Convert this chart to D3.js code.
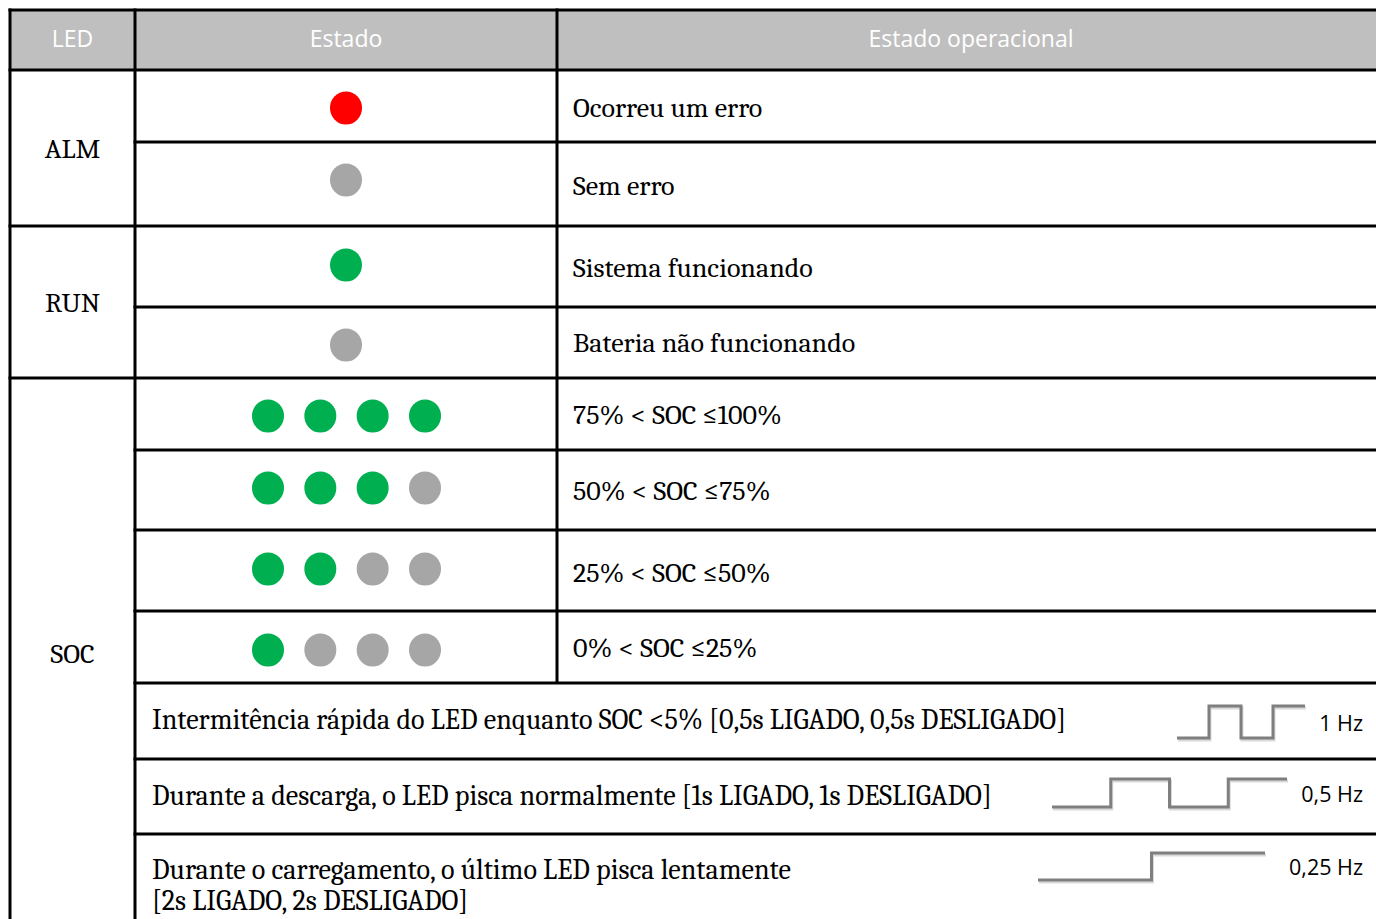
<!DOCTYPE html>
<html><head><meta charset="utf-8">
<script src="https://cdn.jsdelivr.net/npm/d3@7"></script>
<style>
html,body{margin:0;padding:0;background:#fff;overflow:hidden}
svg{display:block}
</style></head>
<body>
<svg id="c" width="1376" height="919"></svg>
<script>
// ---------- data ----------
const headers = ["LED", "Estado", "Estado operacional"];
const ledNames = ["ALM", "RUN", "SOC"];
const ledRowCounts = [2, 2, 7];
const stateDots = [
  ["red"], ["gray"], ["green"], ["gray"],
  ["green","green","green","green"],
  ["green","green","green","gray"],
  ["green","green","gray","gray"],
  ["green","gray","gray","gray"]
];
const descriptions = [
  "Ocorreu um erro", "Sem erro", "Sistema funcionando", "Bateria não funcionando",
  "75% < SOC ≤100%", "50% < SOC ≤75%", "25% < SOC ≤50%", "0% < SOC ≤25%"
];
const blinkTexts = [
  ["Intermitência rápida do LED enquanto SOC <5% [0,5s LIGADO, 0,5s DESLIGADO]"],
  ["Durante a descarga, o LED pisca normalmente [1s LIGADO, 1s DESLIGADO]"],
  ["Durante o carregamento, o último LED pisca lentamente", "[2s LIGADO, 2s DESLIGADO]"]
];
const blinkFreqLabels = ["1 Hz", "0,5 Hz", "0,25 Hz"];
const blinkPeriods = [1, 2, 4];           // seconds per cycle
const blinkLevels = [[0,1,0,1],[0,1,0,1],[0,1]]; // level per half-period segment

// ---------- layout ----------
const colors = {red:"#ff0000", green:"#00b050", gray:"#a6a6a6"};
const svg = d3.select("#c");
const W = 1376;
const colX = [10, 135, 557, 1385];
const rowHeights = [60, 72, 84, 81, 71, 72, 80, 81, 72, 76, 75, 94];
const rowY = [10];
rowHeights.forEach(h => rowY.push(rowY[rowY.length-1] + h));
const serif = "Cambria, Caladea, 'Liberation Serif', serif";
const sans = "'Open Sans', sans-serif";

// header background
svg.append("rect").attr("x", colX[0]).attr("y", rowY[0]).attr("width", colX[3] - colX[0])
  .attr("height", rowHeights[0]).attr("fill", "#bfbfbf");
svg.selectAll("text.hdr").data(headers).join("text").attr("class","hdr")
  .attr("x", (d,i) => (colX[i] + colX[i+1]) / 2)
  .attr("y", rowY[0] + rowHeights[0]/2 - 2.5)
  .attr("text-anchor","middle").attr("dominant-baseline","central")
  .attr("fill","#fff").attr("font-family", sans).attr("font-size", 23)
  .text(d => d);

// LED names (merged cells)
let r = 1;
const ledSpans = ledRowCounts.map(n => { const s = {start:r, end:r+n}; r += n; return s; });
svg.selectAll("text.led").data(ledNames).join("text").attr("class","led")
  .attr("x", (colX[0]+colX[1])/2)
  .attr("y", (d,i) => (rowY[ledSpans[i].start] + rowY[ledSpans[i].end]) / 2 + 1)
  .attr("text-anchor","middle").attr("dominant-baseline","central")
  .attr("font-family", serif).attr("font-size", 28).attr("fill","#000")
  .text(d => d);

// LED dots
const dotOffsets = [2, -4, -1.5, 2.5, 2, -2, -1.5, 3];
const dotX = d3.scalePoint().domain(d3.range(4)).range([268, 425]);
stateDots.forEach((dots, i) => {
  const cy = (rowY[i+1] + rowY[i+2]) / 2 + dotOffsets[i];
  const cx0 = (colX[1] + colX[2]) / 2;
  svg.append("g").selectAll("ellipse").data(dots).join("ellipse")
    .attr("cx", (d,j) => dots.length === 1 ? cx0 : dotX(j))
    .attr("cy", cy)
    .attr("rx", 16).attr("ry", 16.5)
    .attr("fill", d => colors[d]);
});

// descriptions
const descOffsets = [2, 2, 1, 0, 1, 1, 2, 1];
svg.selectAll("text.desc").data(descriptions).join("text").attr("class","desc")
  .attr("x", colX[2] + 16)
  .attr("y", (d,i) => (rowY[i+1] + rowY[i+2]) / 2 + descOffsets[i])
  .attr("dominant-baseline","central")
  .attr("font-family", serif).attr("font-size", 28).attr("fill","#000")
  .text(d => d);

// blink rows text
blinkTexts.forEach((lines, i) => {
  const top = rowY[9+i], bottom = Math.min(rowY[10+i], 919);
  const t = svg.append("text").attr("x", colX[1] + 17)
    .attr("font-family", serif).attr("font-size", 28.1).attr("fill", "#000");
  if (lines.length === 1) {
    t.append("tspan").attr("y", (top + bottom)/2 - 1).attr("dominant-baseline","central").text(lines[0]);
  } else {
    lines.forEach((ln, k) => t.append("tspan").attr("x", colX[1] + 17)
      .attr("y", top + 36 + k*31).attr("dominant-baseline","central").text(ln));
  }
});

// waveforms
const waveX = [[1177, 1305], [1052, 1287], [1038, 1265]];
const waveY = [[738, 706], [807, 779], [880, 853]];
blinkLevels.forEach((levels, i) => {
  const half = blinkPeriods[i] / 2;
  const x = d3.scaleLinear().domain([0, levels.length * half]).range(waveX[i]);
  const y = d3.scaleLinear().domain([0, 1]).range(waveY[i]);
  const pts = levels.map((lv, k) => ({t: k * half, v: lv}));
  pts.push({t: levels.length * half, v: levels[levels.length-1]});
  const line = d3.line().x(d => x(d.t)).y(d => y(d.v)).curve(d3.curveStepAfter);
  svg.append("path").attr("d", line(pts)).attr("fill","none")
    .attr("stroke","#d9d9d9").attr("stroke-width",3).attr("transform","translate(1,2)");
  svg.append("path").attr("d", line(pts)).attr("fill","none")
    .attr("stroke","#7f7f7f").attr("stroke-width",3);
  svg.append("text").attr("x", 1363).attr("y", (waveY[i][0] + waveY[i][1]) / 2)
    .attr("text-anchor","end").attr("dominant-baseline","central")
    .attr("font-family", sans).attr("font-size", 21.5).attr("fill","#000")
    .text(blinkFreqLabels[i]);
});

// grid lines
const g = svg.append("g").attr("stroke","#000").attr("stroke-width",3);
const hLines = [
  {y: rowY[0], x1: colX[0]},
  {y: rowY[1], x1: colX[0]},
  {y: rowY[2], x1: colX[1]},
  {y: rowY[3], x1: colX[0]},
  {y: rowY[4], x1: colX[1]},
  {y: rowY[5], x1: colX[0]},
  {y: rowY[6], x1: colX[1]},
  {y: rowY[7], x1: colX[1]},
  {y: rowY[8], x1: colX[1]},
  {y: rowY[9], x1: colX[1]},
  {y: rowY[10], x1: colX[1]},
  {y: rowY[11], x1: colX[1]}
];
g.selectAll("line.h").data(hLines).join("line").attr("class","h")
  .attr("x1", d => d.x1 - 1.5).attr("x2", colX[3]).attr("y1", d => d.y).attr("y2", d => d.y);
const vLines = [
  {x: colX[0], y1: rowY[0], y2: 930},
  {x: colX[1], y1: rowY[0], y2: 930},
  {x: colX[2], y1: rowY[0], y2: rowY[9]}
];
g.selectAll("line.v").data(vLines).join("line").attr("class","v")
  .attr("x1", d => d.x).attr("x2", d => d.x).attr("y1", d => d.y1 - 1.5).attr("y2", d => d.y2);
</script>
</body></html>
